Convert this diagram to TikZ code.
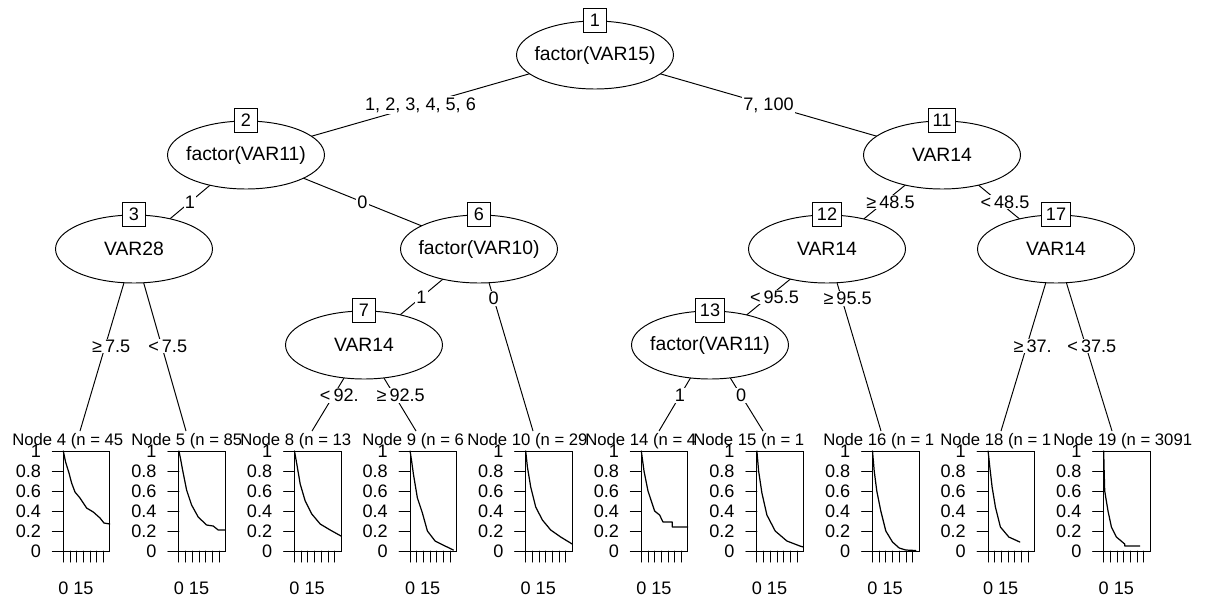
\documentclass[tikz,border=0pt]{standalone}
\usepackage{fontspec}
\setmainfont{Liberation Sans}
\usetikzlibrary{shapes.geometric,backgrounds}

\def\kmW{46.5}
\def\kmbase{551}
\def\tickL{11}
\def\xtick{6.7}
\newcommand{\lblfont}{\fontsize{10.3}{12}\selectfont}
\newcommand{\ttlfont}{\fontsize{9.5}{11}\selectfont}

\tikzset{
  splitnode/.style={ellipse,draw,fill=white,line width=0.55pt,minimum width=3.14cm,minimum height=1.36cm,inner xsep=-12pt,inner ysep=0pt,font=\fontsize{11}{13}\selectfont},
  idbox/.style={draw,fill=white,line width=0.55pt,minimum width=0.46cm,minimum height=0.48cm,inner xsep=0.09cm,inner ysep=0pt,font=\lblfont},
  edgelab/.style={fill=white,inner sep=0.6pt,font=\lblfont},
  cutlab/.style={edgelab,xshift=0.12cm},
  branch/.style={line width=0.55pt},
  axisline/.style={line width=0.55pt},
  kmcurve/.style={line width=0.7pt,line join=round},
  ticklab/.style={inner sep=0pt,font=\lblfont},
  paneltitle/.style={inner sep=0pt,font=\ttlfont},
}

% #1 box left, #2 title start, #3 title, #4 node id, #5 survival curve
\newcommand{\kmpanel}[5]{%
  \node[paneltitle,anchor=base west] (ttl#4) at (#2,445) {#3};
  \begin{scope}[shift={(#1,\kmbase)},yscale=-100]
    \draw[axisline] (0,0) rectangle (\kmW,1);
    \foreach \s [count=\j] in {0,0.2,0.4,0.6,0.8,1} {
      \draw[axisline] (0,\s) -- (-\tickL,\s);
      \node[ticklab,anchor=east] (yl#4-\j) at (-22,\s) {\s};
    }
    \foreach \k in {0,...,6} \draw[axisline] (\k*\xtick,0) -- (\k*\xtick,-0.11);
    \node[ticklab] (xa#4) at (0,-0.37) {0};
    \node[ticklab] (xb#4) at (3*\xtick,-0.37) {15};
    \draw[kmcurve] #5;
  \end{scope}
}

\begin{document}
\begin{tikzpicture}[x=0.02cm,y=-0.02cm,line cap=round]
  \useasboundingbox (0,0) rectangle (1206,600);
  % split nodes
  \node[splitnode] (n1) at (595,55) {factor(VAR15)};
  \node[splitnode] (n2) at (246,155) {factor(VAR11)};
  \node[splitnode] (n11) at (942,155) {VAR14};
  \node[splitnode] (n3) at (134,249) {VAR28};
  \node[splitnode] (n6) at (479,249) {factor(VAR10)};
  \node[splitnode] (n12) at (827,249) {VAR14};
  \node[splitnode] (n17) at (1056,249) {VAR14};
  \node[splitnode] (n7) at (364,345) {VAR14};
  \node[splitnode] (n13) at (710,345) {factor(VAR11)};
  \foreach \n/\k in {n1/1,n2/2,n11/11,n3/3,n6/6,n12/12,n17/17,n7/7,n13/13}
    \node[idbox] (id\k) at (\n.north) {\k};
  % tops of the terminal panels
  \foreach \k/\x in {4/80,5/186,8/312,9/416,10/533,14/659,15/763,16/881,18/1001,19/1112}
    \coordinate (t\k) at (\x,431);

  \begin{scope}[on background layer]
    \draw[branch] (n1.center) -- node[edgelab] (l2) {1, 2, 3, 4, 5, 6} (n2.center);
    \draw[branch] (n1.center) -- node[edgelab] (l11) {7, 100} (n11.center);
    \draw[branch] (n2.center) -- node[edgelab] (l3) {1} (n3.center);
    \draw[branch] (n2.center) -- node[edgelab] (l6) {0} (n6.center);
    \draw[branch] (n11.center) -- node[cutlab] (l12) {≥\,48.5} (n12.center);
    \draw[branch] (n11.center) -- node[cutlab] (l17) {<\,48.5} (n17.center);
    \draw[branch] (n3.center) -- node[cutlab,pos=.533] (l4) {≥\,7.5} (t4);
    \draw[branch] (n3.center) -- node[cutlab,pos=.533] (l5) {<\,7.5} (t5);
    \draw[branch] (n6.center) -- node[edgelab] (l7) {1} (n7.center);
    \draw[branch] (n6.center) -- node[edgelab,pos=.27] (l10) {0} (t10);
    \draw[branch] (n12.center) -- node[cutlab] (l13) {<\,95.5} (n13.center);
    \draw[branch] (n12.center) -- node[cutlab,pos=.27] (l16) {≥\,95.5} (t16);
    \draw[branch] (n17.center) -- node[cutlab,pos=.533] (l18) {≥\,37.} (t18);
    \draw[branch] (n17.center) -- node[cutlab,pos=.533] (l19) {<\,37.5} (t19);
    \draw[branch] (n7.center) -- node[cutlab,pos=.59] (l8) {<\,92.} (t8);
    \draw[branch] (n7.center) -- node[cutlab,pos=.59] (l9) {≥\,92.5} (t9);
    \draw[branch] (n13.center) -- node[edgelab,pos=.59] (l14) {1} (t14);
    \draw[branch] (n13.center) -- node[edgelab,pos=.59] (l15) {0} (t15);
  \end{scope}

  % terminal panels
  \kmpanel{63.3}{12}{Node 4 (n = 45}{4}{(0,1) -- (2.3,.89) -- (5.7,.78) -- (8.3,.68) -- (11.7,.59) -- (16.7,.53) -- (23.3,.43) -- (30,.39) -- (36.7,.33) -- (40.7,.28) -- (46.5,.27)}
  \kmpanel{178.9}{131}{Node 5 (n = 85}{5}{(0,1) -- (1.5,.93) -- (3.7,.81) -- (7.7,.61) -- (12.7,.46) -- (19.3,.34) -- (27.7,.26) -- (34.3,.25) -- (39.3,.21) -- (46.5,.21)}
  \kmpanel{294.5}{240}{Node 8 (n = 13}{8}{(0,1) -- (2.3,.87) -- (5.7,.67) -- (10.7,.5) -- (17.3,.37) -- (25.7,.27) -- (35.7,.21) -- (46.5,.15)}
  \kmpanel{410.1}{362}{Node 9 (n = 6}{9}{(0,1) -- (1.5,.9) -- (3.3,.77) -- (7.3,.53) -- (12.3,.38) -- (17.3,.2) -- (25,.1) -- (35,.05) -- (43.3,.01)}
  \kmpanel{525.7}{467}{Node 10 (n = 29}{10}{(0,1) -- (1.7,.84) -- (5,.64) -- (10,.44) -- (16.7,.31) -- (25,.21) -- (35,.14) -- (46.5,.07)}
  \kmpanel{641.3}{585}{Node 14 (n = 4}{14}{(0,1) -- (2.7,.8) -- (6.7,.6) -- (13.3,.4) -- (18.3,.36) -- (21.7,.29) -- (31,.29) -- (31,.24) -- (46.5,.24)}
  \kmpanel{756.9}{693}{Node 15 (n = 1}{15}{(0,1) -- (1.7,.8) -- (5,.58) -- (10,.36) -- (18.3,.2) -- (30,.1) -- (43,.05) -- (46.5,.04)}
  \kmpanel{872.5}{823}{Node 16 (n = 1}{16}{(0,1) -- (1.7,.8) -- (4.3,.6) -- (8.3,.4) -- (13.3,.2) -- (20,.09) -- (26.7,.03) -- (33.3,.01) -- (43.3,.005)}
  \kmpanel{988.1}{940}{Node 18 (n = 1}{18}{(0,1) -- (1.7,.84) -- (4,.64) -- (7.3,.44) -- (12.3,.24) -- (20.7,.14) -- (31.7,.09)}
  \kmpanel{1103.7}{1053}{Node 19 (n = 3091}{19}{(0,1) -- (0.3,.85) -- (1,.6) -- (4.3,.4) -- (7.7,.24) -- (12.7,.14) -- (21,.07) -- (21,.05) -- (36,.05)}
\end{tikzpicture}
\end{document}
